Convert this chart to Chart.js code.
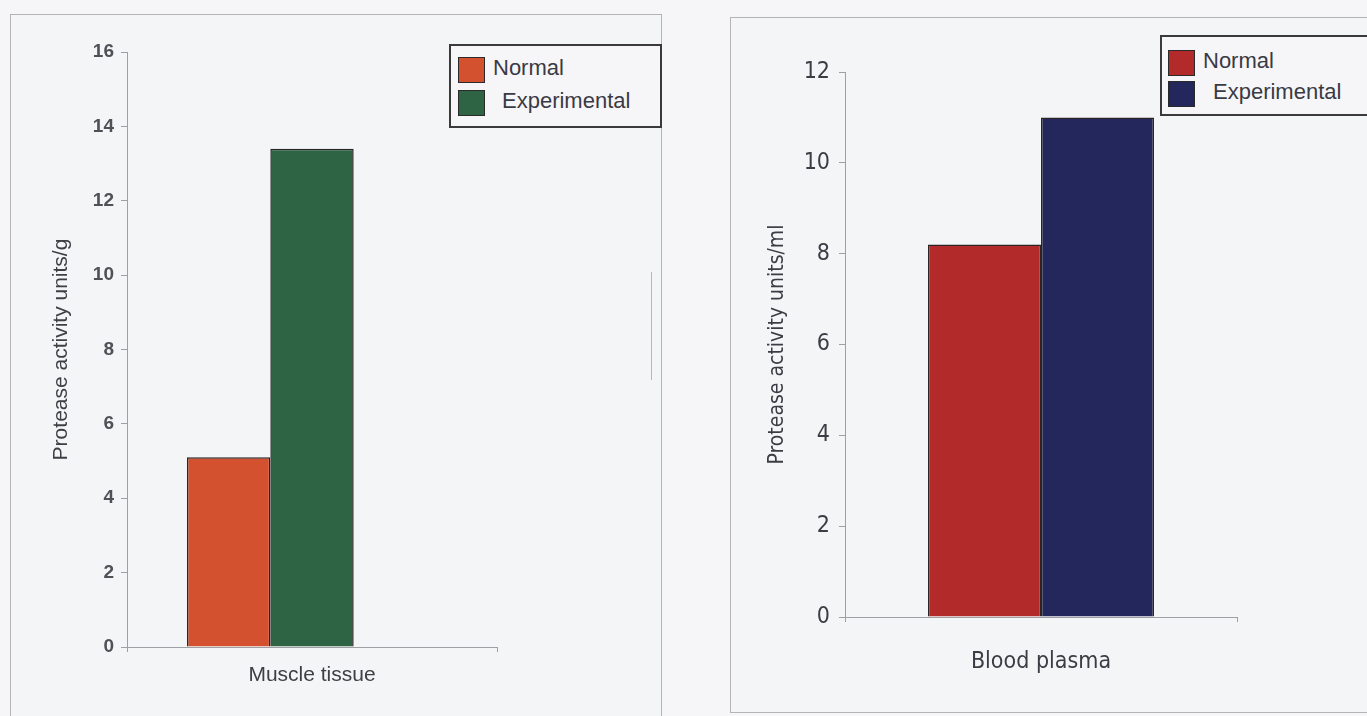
<!DOCTYPE html>
<html>
<head>
<meta charset="utf-8">
<script src="https://cdn.jsdelivr.net/npm/chart.js@4.4.1/dist/chart.umd.min.js"></script>
<style>
  html, body { margin: 0; padding: 0; }
  body { width: 1367px; height: 716px; background: #f6f6f8; position: relative; overflow: hidden; }
  .panel { position: absolute; border: 1px solid #b4b4b6; background: #f4f5f7; box-sizing: border-box; }
  #panelMuscle { left: 10px; top: 14px; width: 652px; height: 720px; }
  #panelPlasma { left: 730px; top: 17px; width: 660px; height: 696px; }
  canvas { position: absolute; }
  #muscleChart { left: 11px; top: 15px; }
  #plasmaChart { left: 731px; top: 18px; }
  .legend { position: absolute; border: 2px solid #3a3a3a; background: #f6f6f8; box-sizing: border-box;
            font-family: 'Liberation Sans', Arial, sans-serif; font-size: 22px; color: #3a3a44; }
  .legend .row { position: absolute; left: 0; height: 26px; line-height: 26px; white-space: nowrap; }
  .legend .sw { position: absolute; left: 0; top: 0; width: 27px; height: 26px; box-sizing: border-box; border: 1px solid #2a2a2a; }
  .legend .tx { position: absolute; top: -2px; }
  #legendMuscle { left: 449px; top: 44px; width: 213px; height: 84px; }
  #legendPlasma { left: 1160px; top: 35px; width: 230px; height: 81px; }
  .mark { position: absolute; background: #b8b8bb; }
</style>
</head>
<body>
<div class="panel" id="panelMuscle"></div>
<div class="panel" id="panelPlasma"></div>
<div class="mark" style="left:651px; top:272px; width:1px; height:108px;"></div>
<canvas id="muscleChart" width="649" height="701"></canvas>
<canvas id="plasmaChart" width="636" height="693"></canvas>
<div class="legend" id="legendMuscle"></div>
<div class="legend" id="legendPlasma"></div>
<script>
// ---- data ----
const seriesNames = ['Normal', 'Experimental'];

const muscleCategories = ['Muscle tissue'];
const muscleNormal = [5.1];
const muscleExperimental = [13.4];
const muscleAxisMax = 16;
const muscleAxisStep = 2;
const muscleAxisTitle = 'Protease activity units/g';

const plasmaCategories = ['Blood plasma'];
const plasmaNormal = [8.2];
const plasmaExperimental = [11.0];
const plasmaAxisMax = 12;
const plasmaAxisStep = 2;
const plasmaAxisTitle = 'Protease activity units/ml';

// ---- styling ----
const muscleColors = ['#d4512f', '#2e6443'];
const plasmaColors = ['#b32a2a', '#24275b'];
const axisColor = '#a0a0a4';
const barEdge = '#2a2424';
const sansFont = "'Liberation Sans', Arial, sans-serif";
const narrowFont = "'Liberation Sans Narrow', 'Arial Narrow', 'DejaVu Sans Condensed', sans-serif";

Chart.defaults.animation = false;
Chart.defaults.devicePixelRatio = 1;

function fixedScale(size, key) {
  return function (scale) { scale[key] = size; };
}

function barChart(canvasId, cfg) {
  const datasets = cfg.series.map((values, i) => ({
    label: seriesNames[i],
    data: values,
    backgroundColor: cfg.colors[i],
    borderColor: barEdge,
    borderWidth: 1.5,
    barPercentage: 1,
    categoryPercentage: cfg.categoryPercentage
  }));
  if (cfg.spareSlot) {
    // an empty third slot in the group, as in the source workbook layout
    datasets.push({ label: '', data: cfg.categories.map(() => null), backgroundColor: 'rgba(0,0,0,0)',
                    barPercentage: 1, categoryPercentage: cfg.categoryPercentage });
  }
  return new Chart(document.getElementById(canvasId), {
    type: 'bar',
    data: { labels: cfg.categories, datasets },
    options: {
      responsive: false,
      events: [],
      layout: { padding: cfg.padding },
      plugins: { legend: { display: false }, tooltip: { enabled: false }, title: { display: false } },
      scales: {
        x: {
          afterFit: fixedScale(cfg.xHeight, 'height'),
          grid: { drawOnChartArea: false, offset: true, tickLength: 5, color: axisColor, lineWidth: 1 },
          border: { display: true, color: axisColor, width: 1 },
          ticks: { color: cfg.textColor, padding: cfg.xLabelPad, font: cfg.xFont, maxRotation: 0 }
        },
        y: {
          min: 0, max: cfg.max,
          afterFit: fixedScale(cfg.yWidth, 'width'),
          grid: { drawOnChartArea: false, tickLength: 6, color: axisColor, lineWidth: 1 },
          border: { display: true, color: axisColor, width: 1 },
          ticks: { stepSize: cfg.step, color: cfg.tickColor, padding: cfg.yLabelPad, font: cfg.yFont },
          title: { display: true, text: cfg.title, color: cfg.textColor, font: cfg.titleFont,
                   padding: { top: cfg.titlePad, bottom: 0 } }
        }
      }
    }
  });
}

function buildLegend(elId, chart, rows) {
  const box = document.getElementById(elId);
  chart.data.datasets.filter(d => d.label).forEach((d, i) => {
    const row = document.createElement('div');
    row.className = 'row';
    row.style.top = rows[i].top + 'px';
    row.style.left = rows[i].swatchLeft + 'px';
    const sw = document.createElement('div');
    sw.className = 'sw';
    sw.style.background = d.backgroundColor;
    const tx = document.createElement('div');
    tx.className = 'tx';
    tx.style.left = rows[i].textLeft + 'px';
    tx.textContent = d.label;
    row.appendChild(sw);
    row.appendChild(tx);
    box.appendChild(row);
  });
}

const muscle = barChart('muscleChart', {
  categories: muscleCategories,
  series: [muscleNormal, muscleExperimental],
  colors: muscleColors,
  spareSlot: true,
  categoryPercentage: 0.676,
  max: muscleAxisMax, step: muscleAxisStep, title: muscleAxisTitle,
  padding: { left: 0, top: 37, right: 163, bottom: 0 },
  yWidth: 116, xHeight: 69,
  textColor: '#3e3e44',
  tickColor: '#505056',
  yFont: { family: sansFont, size: 19, weight: 'bold' },
  xFont: { family: sansFont, size: 21 },
  titleFont: { family: sansFont, size: 21 },
  titlePad: 38, yLabelPad: 7, xLabelPad: 11
});

const plasma = barChart('plasmaChart', {
  categories: plasmaCategories,
  series: [plasmaNormal, plasmaExperimental],
  colors: plasmaColors,
  spareSlot: false,
  categoryPercentage: 0.5765,
  max: plasmaAxisMax, step: plasmaAxisStep, title: plasmaAxisTitle,
  padding: { left: 0, top: 54, right: 130, bottom: 0 },
  yWidth: 114, xHeight: 94,
  textColor: '#3c3c44',
  tickColor: '#3c3c44',
  yFont: { family: narrowFont, size: 23 },
  xFont: { family: narrowFont, size: 23 },
  titleFont: { family: narrowFont, size: 21 },
  titlePad: 34, yLabelPad: 9, xLabelPad: 26
});

buildLegend('legendMuscle', muscle, [
  { top: 11, swatchLeft: 7, textLeft: 35 },
  { top: 44, swatchLeft: 7, textLeft: 44 }
]);
buildLegend('legendPlasma', plasma, [
  { top: 13, swatchLeft: 6, textLeft: 35 },
  { top: 44, swatchLeft: 6, textLeft: 45 }
]);
</script>
</body>
</html>
